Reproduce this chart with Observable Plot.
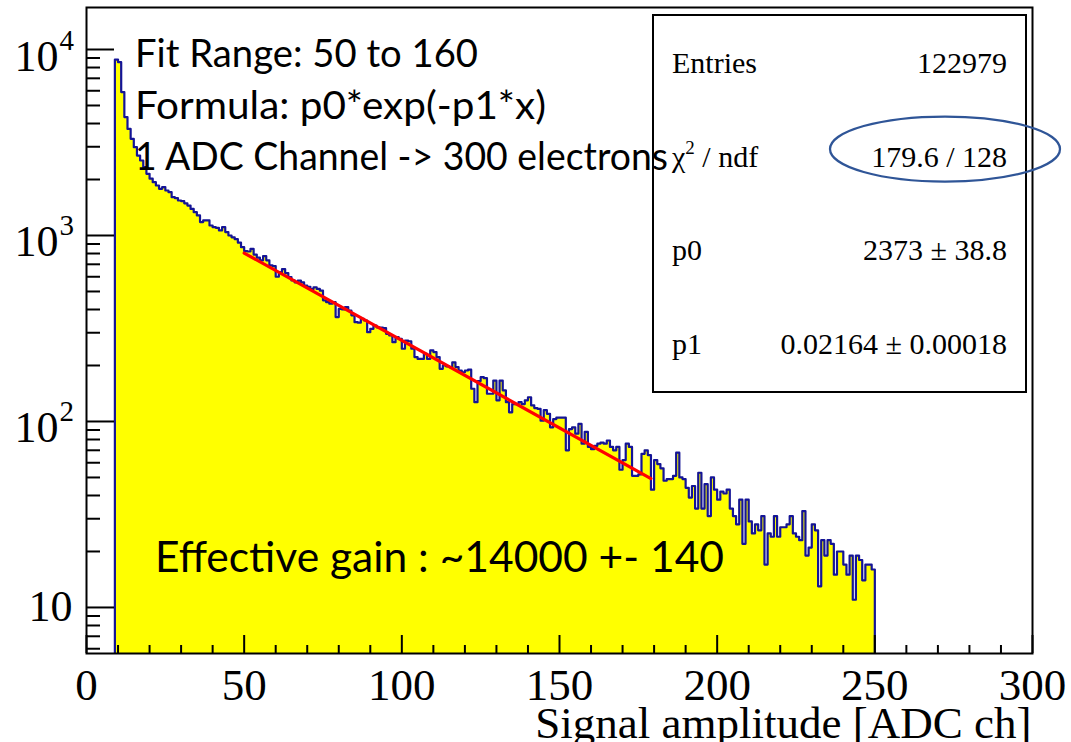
<!DOCTYPE html>
<html><head><meta charset="utf-8">
<script src="https://cdn.jsdelivr.net/npm/d3@7"></script>
<script src="https://cdn.jsdelivr.net/npm/@observablehq/plot@0.6"></script>
<style>
html,body{margin:0;padding:0;background:#fff;}
#chart{position:relative;width:1071px;height:742px;overflow:hidden;}
</style></head><body><div id="chart"></div>
<script>
// ---- data ----
const firstBin = 9;
const binWidth = 1;
const counts = [
  8830, 8550, 5900, 4330, 3740, 3310, 2985, 2690, 2530, 2330, 2145, 2020,      // 9-20
  1935, 1857, 1782, 1820, 1745, 1710, 1607, 1590, 1542, 1530,                  // 21-30
  1490, 1449, 1390, 1334, 1282, 1180, 1205, 1205, 1132, 1109,                  // 31-40
  1100, 1065, 1109, 1043, 1000, 978, 955, 915, 865, 825,                       // 41-50
  820, 848, 790, 760, 735, 775, 735, 690, 685, 600,                            // 51-60
  635, 660, 628, 598, 573, 560, 572, 560, 538, 530,                            // 61-70
  515, 527, 516, 505, 448, 438, 430, 438, 364, 403,                            // 71-80
  400, 412, 395, 372, 342, 340, 356, 349, 302, 315,                            // 81-90
  328, 321, 320, 318, 296, 290, 267, 284, 278, 246,                            // 91-100
  272, 270, 246, 222, 217, 217, 231, 217, 241, 236,                            // 101-110
  222, 192, 200, 198, 196, 208, 196, 188, 184, 188,                            // 111-120
  190, 150, 127, 165, 173, 171, 141, 141, 166, 130,                            // 121-130
  166, 147, 127, 112, 124, 124, 127, 124, 130, 135,                            // 131-140
  122, 118, 117, 101, 115, 110, 93, 103, 105, 105,                             // 141-150
  105, 70, 91, 93, 86, 97, 76, 88, 73, 71,                                     // 151-160
  74, 76, 77, 76, 79, 73, 70, 73, 55, 62,                                      // 161-170
  76, 73, 51, 51, 52, 67, 70, 66, 43, 62,                                      // 171-180
  59, 56, 48, 49, 49, 51, 68, 50, 49, 44,                                      // 181-190
  39, 45, 34, 53, 34, 46, 31, 50, 43, 38,                                      // 191-200
  42, 41, 43, 34, 31, 28, 38, 22, 38, 29,                                      // 201-210
  25, 28, 26, 31, 17, 25, 24, 31, 24, 27,                                      // 211-220
  27, 28, 31, 25, 24, 23, 33, 19, 21, 28,                                      // 221-230
  26, 13, 23, 19, 23, 22, 15, 20, 20, 17,                                      // 231-240
  15, 19, 11, 19, 18, 14, 17, 17, 16                                           // 241-249
];
const xMajorTicks = [0, 50, 100, 150, 200, 250, 300];
const xMinorTicks = [10, 20, 30, 40, 60, 70, 80, 90, 110, 120, 130, 140, 160, 170, 180, 190,
                     210, 220, 230, 240, 260, 270, 280, 290];
const yMajorTicks = [10, 100, 1000, 10000];
const yMinorTicks = [6, 7, 8, 9, 20, 30, 40, 50, 60, 70, 80, 90,
                     200, 300, 400, 500, 600, 700, 800, 900,
                     2000, 3000, 4000, 5000, 6000, 7000, 8000, 9000];
const yTickBase = ["10", "10", "10", "10"];
const yTickExp = ["", "2", "3", "4"];
const fitP0 = 2373, fitP1 = 0.02164;
const fitDrawRange = [50, 179];
const statsLabels = ["Entries", "χ", "p0", "p1"];
const statsValues = ["122979", "179.6 / 128", "2373 ± 38.8", "0.02164 ± 0.00018"];
const notes = ["Fit Range: 50 to 160", "Formula: p0*exp(-p1*x)", "1 ADC Channel -> 300 electrons"];
const gainNote = "Effective gain : ~14000 +- 140";
const xTitle = "Signal amplitude [ADC ch]";

// ---- derived tables ----
const base = 1; // below the visible domain, clipped
const bins = counts.map((v, i) => ({x: firstBin + i * binWidth, v}));
const endX = firstBin + counts.length * binWidth;
const areaData = [...bins, {x: endX, v: counts[counts.length - 1]}];
const outline = [{x: firstBin, v: base}, ...areaData, {x: endX, v: base}];
const fitLine = fitDrawRange.map(x => ({x, v: fitP0 * Math.exp(-fitP1 * x)}));
const yLabels = yMajorTicks.map((v, i) => ({v, base: yTickBase[i], exp: yTickExp[i]}));

const serif = "'Liberation Serif', 'Times New Roman', serif";
const W = 1071, H = 742, mL = 86, mR = 39, mT = 7, mB = 89;
const fw = W - mL - mR, fh = H - mT - mB;

const chart = Plot.plot({
  width: W, height: H,
  marginLeft: mL, marginRight: mR, marginTop: mT, marginBottom: mB,
  x: {domain: [0, 300], axis: null},
  y: {type: "log", domain: [5.656, 16820], axis: null},
  style: {background: "white", fontFamily: serif},
  marks: [
    Plot.areaY(areaData, {x: "x", y1: base, y2: "v", curve: "step-after", fill: "#ffff00", clip: true}),
    Plot.line(outline, {x: "x", y: "v", curve: "step-after", stroke: "#141496", strokeWidth: 2.2, clip: true}),
    Plot.line(fitLine, {x: "x", y: "v", stroke: "#ff0000", strokeWidth: 3.2}),
    Plot.tickX(xMajorTicks, {x: d => d, insetTop: fh - 18, stroke: "black", strokeWidth: 2}),
    Plot.tickX(xMinorTicks, {x: d => d, insetTop: fh - 8, stroke: "black", strokeWidth: 2}),
    Plot.tickY(yMajorTicks, {y: d => d, insetRight: fw - 28, stroke: "black", strokeWidth: 2}),
    Plot.tickY(yMinorTicks, {y: d => d, insetRight: fw - 14, stroke: "black", strokeWidth: 2}),
    Plot.frame({stroke: "black", strokeWidth: 2}),
    Plot.text(xMajorTicks, {x: d => d, text: d => String(d), frameAnchor: "bottom", dy: 46,
      lineAnchor: "bottom", fontSize: 45, fill: "black", fontFamily: serif}),
    Plot.text(yLabels.filter(d => d.exp), {y: "v", text: "base", frameAnchor: "left", textAnchor: "end",
      dx: -28, dy: 21, lineAnchor: "bottom", fontSize: 44, fill: "black", fontFamily: serif}),
    Plot.text(yLabels.filter(d => d.exp), {y: "v", text: "exp", frameAnchor: "left", textAnchor: "start",
      dx: -27, dy: 0, lineAnchor: "bottom", fontSize: 29, fill: "black", fontFamily: serif}),
    Plot.text(yLabels.filter(d => !d.exp), {y: "v", text: "base", frameAnchor: "left", textAnchor: "end",
      dx: -14, dy: 14, lineAnchor: "bottom", fontSize: 44, fill: "black", fontFamily: serif}),
    Plot.text([xTitle], {text: d => d, frameAnchor: "bottom-right", textAnchor: "end", dx: -1, dy: 84,
      lineAnchor: "bottom", fontSize: 45, fill: "black", fontFamily: serif})
  ]
});
document.getElementById("chart").appendChild(chart);

// ---- annotations: stats box, notes, ellipse ----
const svg = d3.select(chart);
const g = svg.append("g").attr("text-anchor", "start");
g.append("rect").attr("x", 653).attr("y", 15).attr("width", 373).attr("height", 377)
  .attr("fill", "white").attr("stroke", "black").attr("stroke-width", 2);
const rowY = [73, 167, 260, 354];
statsLabels.forEach((lab, i) => {
  const t = g.append("text").attr("x", 672).attr("y", rowY[i]).attr("text-anchor", "start")
    .attr("font-family", serif).attr("font-size", 30).attr("fill", "black");
  if (lab === "χ") {
    t.append("tspan").text("χ");
    t.append("tspan").attr("font-size", 19).attr("dy", -13).text("2");
    t.append("tspan").attr("dy", 13).text(" / ndf");
  } else {
    t.text(lab);
  }
  g.append("text").attr("x", 1007).attr("y", rowY[i]).attr("text-anchor", "end")
    .attr("font-family", serif).attr("font-size", 30).attr("fill", "black").text(statsValues[i]);
});
const sans = "Lato, 'Open Sans', sans-serif";
const noteY = [66.5, 118.5, 170];
const noteW = [343, 411, 533];
notes.forEach((s, i) => {
  g.append("text").attr("x", 135).attr("y", noteY[i]).attr("text-anchor", "start")
    .attr("font-family", sans).attr("font-size", 38)
    .attr("textLength", noteW[i]).attr("lengthAdjust", "spacingAndGlyphs").attr("fill", "black").text(s);
});
g.append("text").attr("x", 155).attr("y", 572).attr("text-anchor", "start")
  .attr("font-family", sans).attr("font-size", 43)
  .attr("textLength", 569).attr("lengthAdjust", "spacingAndGlyphs").attr("fill", "black").text(gainNote);
g.append("ellipse").attr("cx", 945).attr("cy", 149).attr("rx", 115).attr("ry", 32.5)
  .attr("fill", "none").attr("stroke", "#2f5597").attr("stroke-width", 2.25);
</script>
</body></html>
